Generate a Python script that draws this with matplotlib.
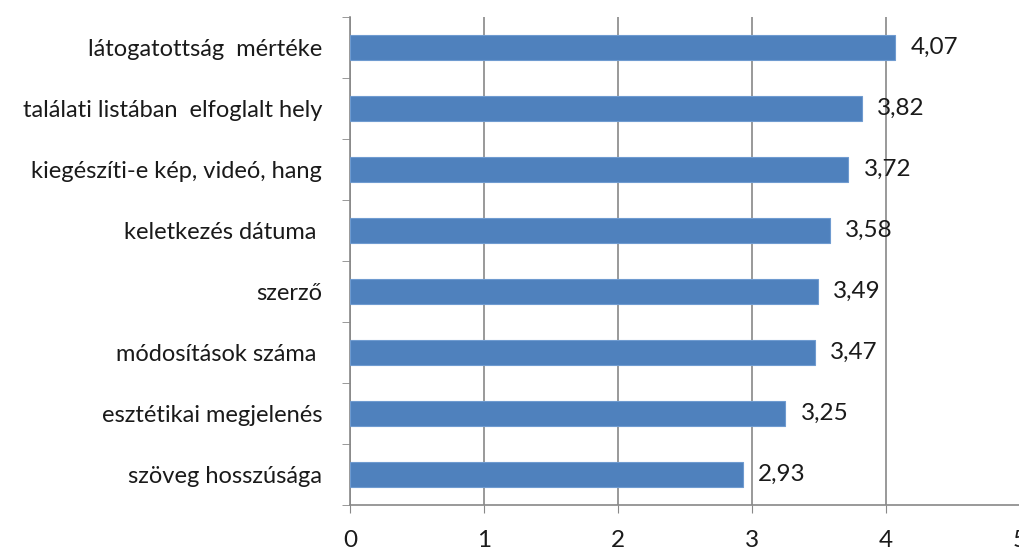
import matplotlib
matplotlib.use("Agg")
import matplotlib.pyplot as plt
import numpy as np

categories = [
    "látogatottság  mértéke",
    "találati listában  elfoglalt hely",
    "kiegészíti-e kép, videó, hang",
    "keletkezés dátuma ",
    "szerző",
    "módosítások száma ",
    "esztétikai megjelenés",
    "szöveg hosszúsága",
]
values = [4.07, 3.82, 3.72, 3.58, 3.49, 3.47, 3.25, 2.93]
x_ticks = [0, 1, 2, 3, 4, 5]

W, H = 1019, 549
fig = plt.figure(figsize=(W / 100, H / 100), dpi=100)
ax = fig.add_axes([350 / W, 1 - 505 / H, 670 / W, 488 / H])

fonts = ["Lato", "DejaVu Sans"]
plt.rcParams["font.family"] = fonts
grid_col = "#888888"
text_col = "#1a1a1a"

y = np.arange(len(categories))
ax.barh(y, values, height=0.4, color="#4f81bd", edgecolor="#6f9bd0", linewidth=0.8, zorder=3)

for yi, v in zip(y, values):
    ax.annotate(f"{v:.2f}".replace(".", ","), (v, yi), xytext=(11, 0),
                textcoords="offset points", va="center", ha="left",
                fontsize=17.5, family=fonts, color=text_col, zorder=4)

ax.set_xlim(0, 5)
ax.set_ylim(len(categories) - 0.5, -0.5)
ax.set_xticks(x_ticks)
ax.set_xticklabels([str(t) for t in x_ticks], fontsize=17.5, family=fonts, color=text_col)
ax.set_yticks(y)
ax.set_yticklabels(categories, fontsize=17, family=fonts, color=text_col)
ax.tick_params(axis="y", length=0, pad=20)
ax.tick_params(axis="x", length=6, color=grid_col, pad=12, direction="out")

# category boundary ticks on the left axis
ax.set_yticks(np.arange(-0.5, len(categories)), minor=True)
ax.tick_params(axis="y", which="minor", length=6, color=grid_col, direction="out")

ax.grid(axis="x", color=grid_col, linewidth=1.2, zorder=0)
for side in ["top", "right"]:
    ax.spines[side].set_visible(False)
for side in ["left", "bottom"]:
    ax.spines[side].set_color(grid_col)
    ax.spines[side].set_linewidth(1.2)

fig.savefig("out.png", dpi=100)
